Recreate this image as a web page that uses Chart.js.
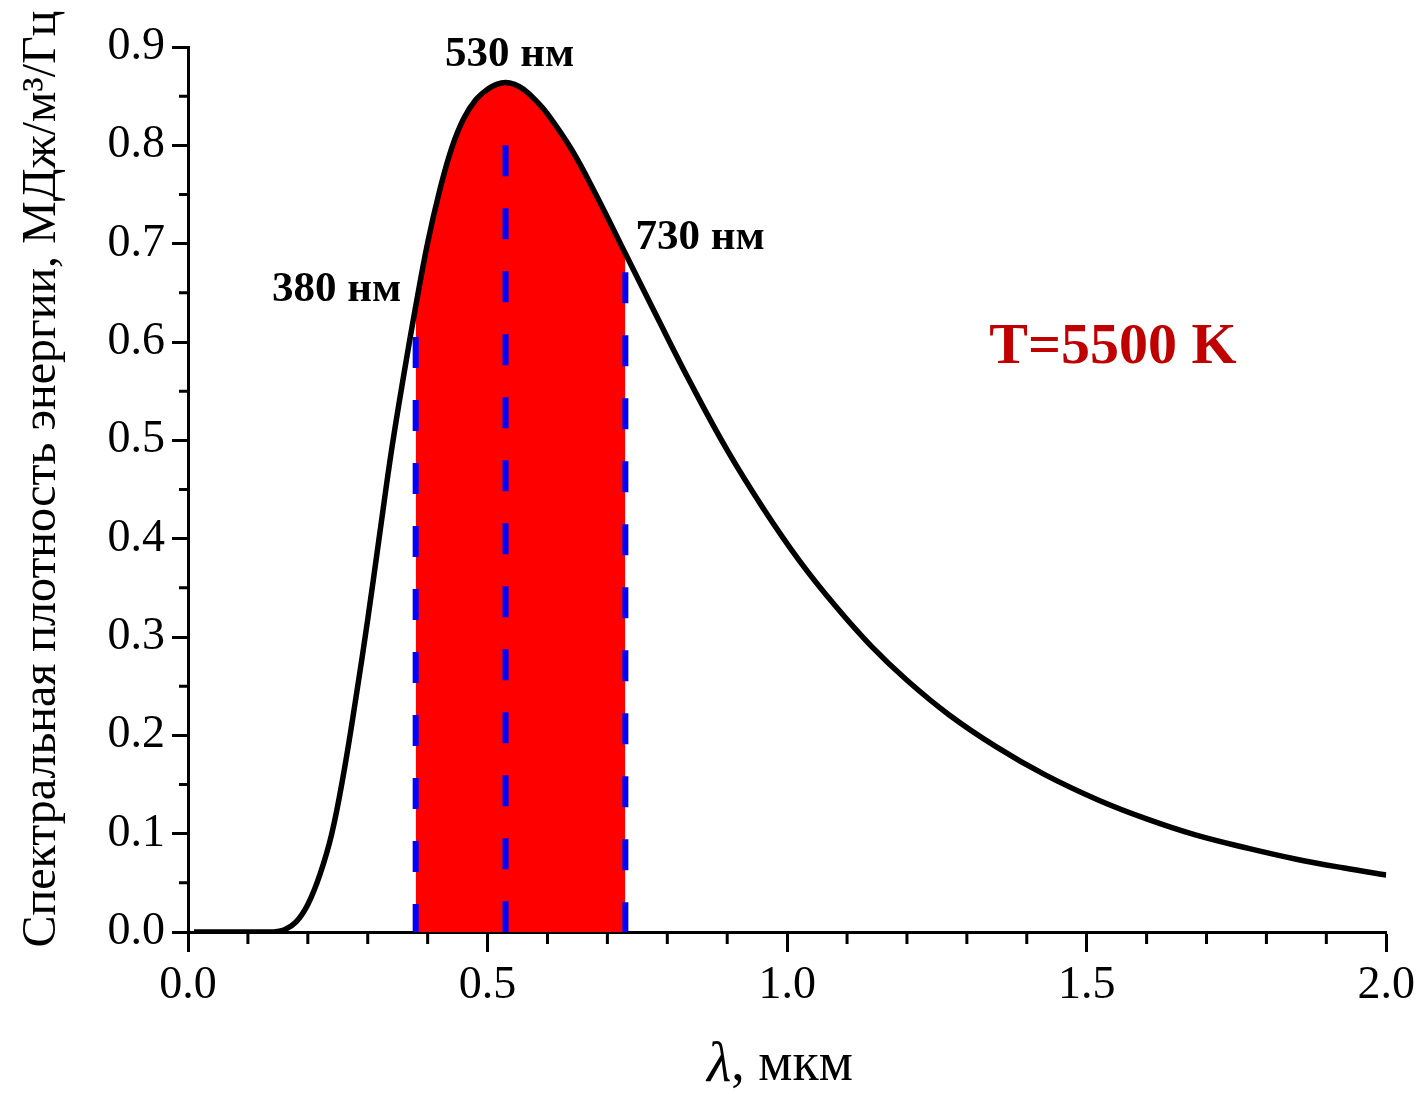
<!DOCTYPE html>
<html lang="ru">
<head>
  <meta charset="UTF-8">
  <title>Спектральная плотность энергии, T=5500 K</title>
  <script src="https://cdn.jsdelivr.net/npm/chart.js"></script>
  <style>
    html, body { margin: 0; padding: 0; background: #fff; }
    #wrap { width: 1421px; height: 1094px; }
  </style>
</head>
<body>
  <div id="wrap"><canvas id="chart"></canvas></div>
  <script>
    // длина волны, мкм
    const lambda = [0.01, 0.05, 0.10, 0.14, 0.16, 0.18, 0.20, 0.22, 0.24, 0.26,
                    0.28, 0.30, 0.32, 0.34, 0.36, 0.38, 0.40, 0.42, 0.44, 0.46,
                    0.48, 0.50, 0.515, 0.53, 0.545, 0.56, 0.58, 0.60, 0.64, 0.68,
                    0.73, 0.78, 0.84, 0.90, 0.96, 1.02, 1.08, 1.14, 1.20, 1.27,
                    1.35, 1.43, 1.52, 1.60, 1.68, 1.77, 1.85, 1.93, 2.00];
    // спектральная плотность энергии, МДж/м3/Гц
    const density = [0, 0, 0, 0, 0.002, 0.010, 0.028, 0.058, 0.100, 0.162,
                     0.237, 0.318, 0.405, 0.491, 0.566, 0.636, 0.701, 0.754, 0.797, 0.827,
                     0.846, 0.857, 0.862, 0.864, 0.862, 0.857, 0.846, 0.832, 0.796, 0.751,
                     0.690, 0.629, 0.557, 0.490, 0.431, 0.378, 0.332, 0.291, 0.256, 0.221,
                     0.188, 0.160, 0.134, 0.115, 0.099, 0.085, 0.074, 0.065, 0.058];

    // видимый диапазон
    const bandFrom = 0.38;
    const bandTo = 0.73;
    // вертикальные пунктиры: положение и верхняя точка
    const markerX = [0.38, 0.53, 0.73];
    const markerTop = [0.605, 0.80, 0.671];

    const xTicks = [0.0, 0.5, 1.0, 1.5, 2.0];
    const xMinor = [0.1, 0.2, 0.3, 0.4, 0.6, 0.7, 0.8, 0.9, 1.1, 1.2, 1.3, 1.4, 1.6, 1.7, 1.8, 1.9];
    const yTicks = [0.0, 0.1, 0.2, 0.3, 0.4, 0.5, 0.6, 0.7, 0.8, 0.9];
    const yMinor = [0.05, 0.15, 0.25, 0.35, 0.45, 0.55, 0.65, 0.75, 0.85];

    const notes = [
      { text: '530 нм', x: 0.537, y: 0.892 },
      { text: '730 нм', x: 0.855, y: 0.706 },
      { text: '380 нм', x: 0.248, y: 0.653 }
    ];

    const curve = lambda.map((x, i) => ({ x: x, y: density[i] }));
    const band = curve.filter(p => p.x >= bandFrom && p.x <= bandTo);

    const markerSets = markerX.map((x, i) => ({
      data: [{ x: x, y: markerTop[i] }, { x: x, y: 0 }],
      borderColor: '#0000ff',
      borderWidth: 6,
      borderDash: [31, 32],
      pointRadius: 0,
      fill: false,
      order: 1
    }));

    // малые засечки на осях
    const minorTicks = {
      id: 'minorTicks',
      afterDraw(chart) {
        const { ctx, scales: { x, y } } = chart;
        ctx.save();
        ctx.strokeStyle = '#000';
        ctx.lineWidth = 3;
        ctx.beginPath();
        xMinor.forEach(v => {
          const px = x.getPixelForValue(v);
          ctx.moveTo(px, y.bottom);
          ctx.lineTo(px, y.bottom + 12);
        });
        yMinor.forEach(v => {
          const py = y.getPixelForValue(v);
          ctx.moveTo(x.left, py);
          ctx.lineTo(x.left - 9, py);
        });
        ctx.stroke();
        ctx.restore();
      }
    };

    // подписи на графике и подписи осей
    const textLabels = {
      id: 'textLabels',
      afterDraw(chart) {
        const { ctx, scales: { x, y } } = chart;
        ctx.save();
        ctx.textAlign = 'center';
        ctx.textBaseline = 'middle';
        ctx.fillStyle = '#000';
        ctx.font = 'bold 43px "Liberation Serif"';
        notes.forEach(n => {
          ctx.fillText(n.text, x.getPixelForValue(n.x), y.getPixelForValue(n.y));
        });

        ctx.fillStyle = '#c00000';
        ctx.font = 'bold 58px "Liberation Serif"';
        ctx.fillText('T=5500 K', x.getPixelForValue(1.544), y.getPixelForValue(0.594));

        // ось Y
        ctx.fillStyle = '#000';
        ctx.font = '48px "Liberation Serif"';
        ctx.save();
        ctx.translate(42, 479);
        ctx.rotate(-Math.PI / 2);
        ctx.fillText('Спектральная плотность энергии, МДж/м³/Гц', 0, 0);
        ctx.restore();

        // ось X: курсивная лямбда
        const part1 = 'λ';
        const part2 = ', мкм';
        ctx.font = 'italic 56px "Liberation Serif"';
        const w1 = ctx.measureText(part1).width;
        ctx.font = '54px "Liberation Serif"';
        const w2 = ctx.measureText(part2).width;
        const x0 = 780 - (w1 + w2) / 2;
        ctx.textAlign = 'left';
        ctx.font = 'italic 56px "Liberation Serif"';
        ctx.fillText(part1, x0, 1066);
        ctx.font = '54px "Liberation Serif"';
        ctx.fillText(part2, x0 + w1, 1066);
        ctx.restore();
      }
    };

    new Chart(document.getElementById('chart'), {
      type: 'line',
      data: {
        datasets: [
          {
            data: curve,
            borderColor: '#000',
            borderWidth: 5.5,
            pointRadius: 0,
            tension: 0.4,
            fill: false,
            order: 0
          },
          ...markerSets,
          {
            data: band,
            borderWidth: 0,
            borderColor: 'rgba(0,0,0,0)',
            backgroundColor: '#ff0000',
            pointRadius: 0,
            tension: 0.4,
            fill: 'origin',
            order: 2
          }
        ]
      },
      options: {
        responsive: true,
        maintainAspectRatio: false,
        devicePixelRatio: 1,
        animation: false,
        layout: { padding: { left: 0, top: 47, right: 32, bottom: 0 } },
        plugins: {
          legend: { display: false },
          tooltip: { enabled: false }
        },
        scales: {
          x: {
            type: 'linear',
            min: 0,
            max: 2,
            afterBuildTicks: s => { s.ticks = xTicks.map(v => ({ value: v })); },
            afterFit: s => { s.height = 162; },
            border: { display: true, color: '#000', width: 3 },
            grid: { drawOnChartArea: false, drawTicks: true, tickLength: 20, tickWidth: 3, tickColor: '#000' },
            ticks: {
              color: '#000',
              padding: 6,
              font: { family: 'Liberation Serif', size: 46 },
              callback: v => v.toFixed(1)
            }
          },
          y: {
            type: 'linear',
            min: 0,
            max: 0.9,
            afterBuildTicks: s => { s.ticks = yTicks.map(v => ({ value: v })); },
            afterFit: s => { s.width = 188; },
            border: { display: true, color: '#000', width: 3 },
            grid: { drawOnChartArea: false, drawTicks: true, tickLength: 16, tickWidth: 3, tickColor: '#000' },
            ticks: {
              color: '#000',
              padding: 7,
              font: { family: 'Liberation Serif', size: 46 },
              callback: v => v.toFixed(1)
            }
          }
        }
      },
      plugins: [minorTicks, textLabels]
    });
  </script>
</body>
</html>
